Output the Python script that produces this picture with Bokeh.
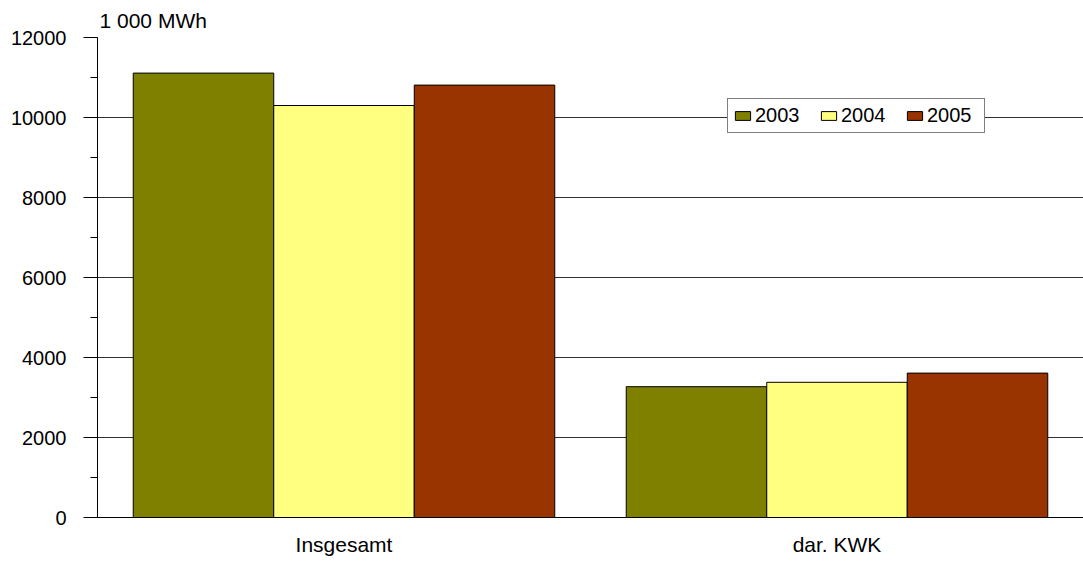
from bokeh.plotting import figure
from bokeh.models import FixedTicker, Range1d, Legend, LegendItem, Title
from bokeh.embed import file_html
from bokeh.resources import INLINE

categories = ["Insgesamt", "dar. KWK"]
years = ["2003", "2004", "2005"]
v2003 = [11110, 3270]
v2004 = [10300, 3380]
v2005 = [10810, 3610]
colors = ["#808000", "#FFFF80", "#993300"]
y_ticks = [0, 2000, 4000, 6000, 8000, 10000, 12000]

FONT = "Liberation Sans"

p = figure(width=1083, height=562, output_backend="svg", toolbar_location=None,
           x_range=Range1d(0, 2), y_range=Range1d(0, 12000),
           min_border_left=97, min_border_right=0, min_border_top=36, min_border_bottom=45)
p.outline_line_color = None
p.background_fill_color = "white"
p.title.visible = False
t = Title(text="1 000 MWh", text_font=FONT, text_font_size="21px", text_font_style="normal",
          align="left", offset=2, standoff=12, text_color="black")
p.add_layout(t, "above")

bw = 0.285
series = [v2003, v2004, v2005]
items = []
for k, (vals, col, yr) in enumerate(zip(series, colors, years)):
    xs = [i + 0.5 + (k - 1) * bw for i in range(len(categories))]
    r = p.vbar(x=xs, top=vals, width=bw, bottom=0, fill_color=col, line_color="black", line_width=1)
    items.append(LegendItem(label=yr, renderers=[r]))

# axes
p.xaxis.ticker = FixedTicker(ticks=[i + 0.5 for i in range(len(categories))])
p.xaxis.major_label_overrides = {i + 0.5: c for i, c in enumerate(categories)}
p.xaxis.major_tick_line_color = None
p.xaxis.minor_tick_line_color = None
p.xaxis.major_tick_out = 0
p.xaxis.axis_line_color = "black"
p.xaxis.major_label_text_font = FONT
p.xaxis.major_label_text_font_size = "21px"
p.xaxis.major_label_text_color = "black"
p.xaxis.major_label_standoff = 15

p.yaxis.ticker = FixedTicker(ticks=y_ticks, minor_ticks=list(range(0, 12001, 1000)))
p.yaxis.axis_line_color = "black"
p.yaxis.major_tick_line_color = "black"
p.yaxis.minor_tick_line_color = "black"
p.yaxis.major_tick_out = 14
p.yaxis.major_tick_in = 0
p.yaxis.minor_tick_out = 7
p.yaxis.minor_tick_in = 0
p.yaxis.major_label_text_font = FONT
p.yaxis.major_label_text_font_size = "20px"
p.yaxis.major_label_text_color = "black"
p.yaxis.major_label_standoff = 17
p.yaxis.formatter.use_scientific = False

p.xgrid.grid_line_color = None
p.ygrid.grid_line_color = "#303030"
p.ygrid.grid_line_width = 1

legend = Legend(items=items, orientation="horizontal", location=(630, 384),
                label_text_font=FONT, label_text_font_size="20px", label_text_color="black",
                glyph_width=19, glyph_height=11, label_standoff=3, spacing=12,
                padding=5, margin=0, border_line_color="black", border_line_width=1,
                background_fill_color="white", background_fill_alpha=1,
                label_height=20, label_width=52)
p.add_layout(legend, "center")

open("out.html", "w").write(file_html(p, INLINE))
